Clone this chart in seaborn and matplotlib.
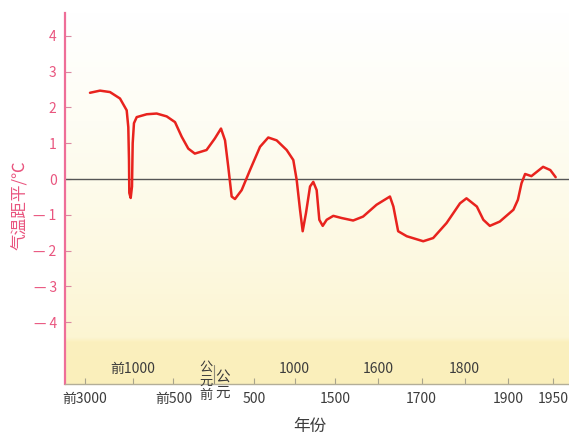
import numpy as np
import pandas as pd
import matplotlib
matplotlib.use("Agg")
import matplotlib.pyplot as plt
import matplotlib.transforms as mtransforms
from matplotlib.colors import to_rgb
import seaborn as sns

# Temperature anomaly of the last five thousand years (negative year = BC)
years = [-2792, -2375, -1958, -1542, -1263, -1196, -1167, -1154, -1096, -1042,
         -1013, -988, -954, -830, -707, -583, -480, -397, -316, -235,
         -90, 12, 89, 139, 179, 221, 262, 345, 448, 572,
         674, 778, 902, 984, 1026, 1067, 1100, 1141, 1191, 1231,
         1273, 1306, 1348, 1397, 1479, 1515, 1542, 1565, 1596, 1627,
         1635, 1646, 1666, 1704, 1727, 1758, 1789, 1804, 1828, 1843,
         1858, 1881, 1906, 1911, 1915, 1919, 1926, 1932, 1939, 1947, 1953]
temps = [2.41, 2.47, 2.43, 2.25, 1.92, 1.45, 0.53, -0.39, -0.53, -0.21,
         1.00, 1.56, 1.73, 1.81, 1.83, 1.75, 1.59, 1.18, 0.85, 0.71,
         0.81, 1.13, 1.41, 1.08, 0.34, -0.49, -0.56, -0.31, 0.25, 0.90,
         1.16, 1.08, 0.81, 0.53, -0.03, -0.86, -1.46, -0.95, -0.21, -0.08,
         -0.31, -1.14, -1.31, -1.14, -1.03, -1.09, -1.16, -1.05, -0.72, -0.49,
         -0.77, -1.46, -1.60, -1.74, -1.65, -1.23, -0.68, -0.54, -0.77, -1.14,
         -1.31, -1.19, -0.86, -0.58, -0.12, 0.14, 0.08, 0.20, 0.34, 0.25, 0.05]

# Tick labels: lower row under the axis, upper row inside the plot
low_ticks = [-3000, -500, 500, 1500, 1700, 1900, 1950]
low_labels = ["前3000", "前500", "500", "1500", "1700", "1900", "1950"]
high_ticks = [-1000, 1000, 1600, 1800]
high_labels = ["前1000", "1000", "1600", "1800"]
y_ticks = [4, 3, 2, 1, 0, -1, -2, -3, -4]

# Piecewise-linear time axis (year -> relative position)
YEAR_BREAKS = np.array([-3833, -3000, -1000, 1500, 1900, 1950, 1968], float)
POS_BREAKS = np.array([65, 85, 133, 335, 508, 553, 569], float)


def forward(x):
    return np.interp(x, YEAR_BREAKS, POS_BREAKS)


def inverse(u):
    return np.interp(u, POS_BREAKS, YEAR_BREAKS)


sns.set_theme(style="white")
plt.rcParams["font.family"] = ["Noto Sans CJK SC", "DejaVu Sans"]

PINK = "#e9557f"
RED = "#e8231e"
GREY = "#3c3c3c"

fig = plt.figure(figsize=(5.69, 4.36), dpi=100)
ax = fig.add_axes([65 / 569, 1 - 384 / 436, 504 / 569, 371 / 436])

# Pale yellow background gradient
stops = [(0.0, "#faefbb"), (0.113, "#fbf0be"), (0.124, "#fcf5d2"),
         (0.36, "#fdf9e2"), (0.71, "#fefdf4"), (1.0, "#ffffff")]
fy = np.linspace(0, 1, 400)
grad = np.zeros((400, 1, 3))
for c in range(3):
    grad[:, 0, c] = np.interp(fy, [s[0] for s in stops], [to_rgb(s[1])[c] for s in stops])
ax.imshow(grad, extent=[0, 1, 0, 1], transform=ax.transAxes, origin="lower",
          aspect="auto", zorder=0, interpolation="bilinear")

df = pd.DataFrame({"year": years, "temp": temps})
ax.set_xscale("function", functions=(forward, inverse))
ax.axhline(0, color="#555555", lw=1.0, zorder=2)
sns.lineplot(data=df, x="year", y="temp", sort=False, estimator=None, ax=ax,
             color=RED, lw=1.8, zorder=3, solid_capstyle="round", solid_joinstyle="round")

ax.set_xlim(-3833, 1968)
ax.set_ylim(-5.73, 4.64)

for side in ("top", "right"):
    ax.spines[side].set_visible(False)
ax.spines["left"].set_color("#ee6e98")
ax.spines["left"].set_linewidth(1.6)
ax.spines["bottom"].set_color("#b3ae98")
ax.spines["bottom"].set_linewidth(1.0)

all_ticks = sorted(low_ticks + high_ticks)
ax.set_xticks(all_ticks)
ax.set_xticklabels([low_labels[low_ticks.index(t)] if t in low_ticks else "" for t in all_ticks])
ax.tick_params(axis="x", direction="in", length=4, width=0.8, color="#a8a48c",
               pad=6, labelsize=10, labelcolor=GREY, bottom=True)

ax.set_yticks(y_ticks)
ax.set_yticklabels([f"— {abs(v)}" if v < 0 else str(v) for v in y_ticks])
ax.tick_params(axis="y", direction="in", length=4, width=0.8, color="#d98aa2",
               pad=6, labelsize=10, labelcolor=PINK, left=True)

xform = mtransforms.blended_transform_factory(ax.transData, ax.transAxes)
for t, lab in zip(high_ticks, high_labels):
    ax.text(t, 0.040, lab, transform=xform, ha="center", va="center",
            fontsize=10, color=GREY)

# Era divider at year 0
ax.plot([0, 0], [0, 0.05], transform=xform, color="#8f8b78", lw=0.8, zorder=2,
        clip_on=False)
ax.text(-97, 0.008, "公\n元\n前", transform=xform, ha="center", va="center",
        fontsize=9.5, color=GREY, linespacing=1.1)
ax.text(104, -0.003, "公\n元", transform=xform, ha="center", va="center",
        fontsize=10.5, color=GREY, linespacing=1.1)

ax.set_xlabel("年份", fontsize=12, color=GREY)
ax.xaxis.set_label_coords((310 - 65) / 504, -(426 - 384) / 371)
ax.xaxis.label.set_va("center")
ax.set_ylabel("气温距平/℃", fontsize=12, color=PINK,
              family=["Noto Sans CJK SC", "DejaVu Sans"])
ax.yaxis.set_label_coords(-(65 - 21) / 504, (384 - 205) / 371)
ax.yaxis.label.set_va("center")

fig.savefig("out.png", dpi=100)
